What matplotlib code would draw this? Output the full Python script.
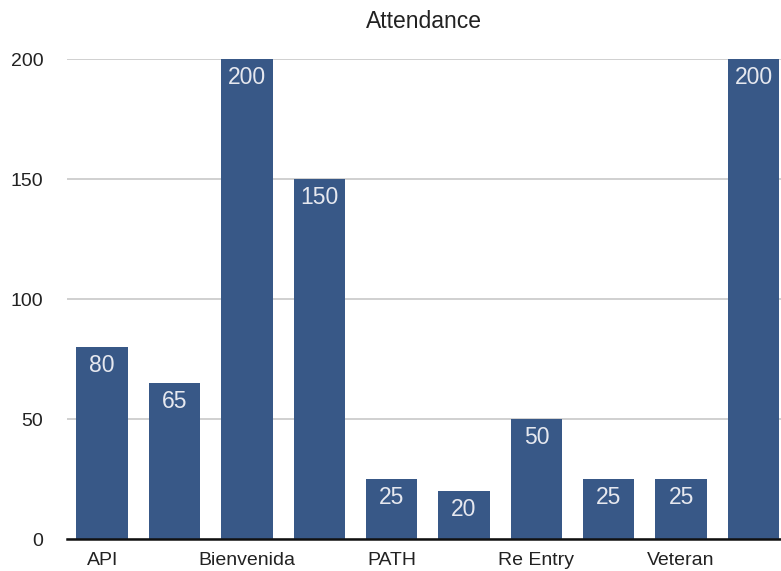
import matplotlib.pyplot as plt
import numpy as np

plt.rcParams['font.family'] = ['Liberation Sans', 'DejaVu Sans']

categories = ["API", "", "Bienvenida", "", "PATH", "", "Re Entry", "", "Veteran", ""]
attendance = [80, 65, 200, 150, 25, 20, 50, 25, 25, 200]
y_ticks = [0, 50, 100, 150, 200]

x = np.arange(len(attendance))

fig = plt.figure(figsize=(7.81, 5.71), dpi=100)
ax = fig.add_axes([0.0858, 0.056, 0.9142, 0.8406])

ax.bar(x, attendance, width=0.71, color='#385887', zorder=3)
for i, v in enumerate(attendance):
    ax.annotate(f'{v}', (x[i], v), textcoords="offset points", xytext=(0, -13),
                ha='center', va='center', color='#e6e8ef', fontsize=16.5, zorder=4)

ax.set_xlim(-0.486, 9.38)
ax.set_ylim(0, 200)
ax.set_yticks(y_ticks)
ax.set_xticks(x)
ax.set_xticklabels(categories)
ax.tick_params(axis='both', length=0, labelsize=14, colors='#222222')
ax.tick_params(axis='y', pad=17)
ax.tick_params(axis='x', pad=9)
ax.yaxis.grid(True, color='#c8c8c8', linewidth=1.2, zorder=0)
for s in ['top', 'right', 'left']:
    ax.spines[s].set_visible(False)
ax.spines['bottom'].set_linewidth(1.8)
ax.spines['bottom'].set_color('#111111')
ax.spines['bottom'].set_zorder(5)
ax.set_title('Attendance', fontsize=16.5, pad=22, color='#222222')

fig.savefig('out.png', dpi=100)
